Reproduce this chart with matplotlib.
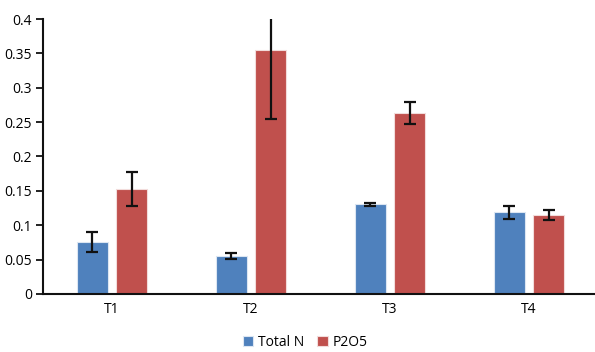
import matplotlib
matplotlib.use("Agg")
import matplotlib.pyplot as plt
import numpy as np

plt.rcParams['font.family'] = ['Open Sans', 'DejaVu Sans']

categories = ["T1", "T2", "T3", "T4"]
total_n = [0.0756, 0.0553, 0.1304, 0.1188]
total_n_err = [0.015, 0.005, 0.0025, 0.0095]
p2o5 = [0.1527, 0.355, 0.263, 0.1145]
p2o5_err = [0.025, 0.10, 0.016, 0.007]
yticks = [0, 0.05, 0.1, 0.15, 0.2, 0.25, 0.3, 0.35, 0.4]
ytick_labels = ["0", "0.05", "0.1", "0.15", "0.2", "0.25", "0.3", "0.35", "0.4"]

blue = "#4F81BD"
red = "#C0504D"

fig = plt.figure(figsize=(5.95, 3.52), dpi=100)
ax = fig.add_axes([0.0723, 0.1648, 0.9277, 0.7812])

x = np.arange(len(categories))
w = 0.223
off = 0.142
err_kw = dict(ecolor="#111111", elinewidth=1.6, capsize=4.5, capthick=1.6)
ax.bar(x - off, total_n, w, color=blue, edgecolor="#DCE6F2", linewidth=0.8,
       yerr=total_n_err, error_kw=err_kw, label="Total N")
ax.bar(x + off, p2o5, w, color=red, edgecolor="#F2DCDB", linewidth=0.8,
       yerr=p2o5_err, error_kw=err_kw, label="P2O5")

ax.set_xlim(-0.496, 3.475)
ax.set_ylim(0, 0.4)
ax.set_yticks(yticks)
ax.set_yticklabels(ytick_labels)
ax.set_xticks(x)
ax.set_xticklabels(categories)
ax.tick_params(axis="y", length=5, width=1.3, labelsize=10, color="#111111", pad=3)
ax.tick_params(axis="x", length=0, labelsize=10, pad=6)
for s in ("top", "right"):
    ax.spines[s].set_visible(False)
for s in ("left", "bottom"):
    ax.spines[s].set_linewidth(1.5)
    ax.spines[s].set_color("#111111")

fig.legend(loc="lower center", bbox_to_anchor=(0.513, -0.03), ncol=2, frameon=False,
           fontsize=10, handlelength=0.75, handleheight=0.75, handletextpad=0.35,
           columnspacing=0.9)

fig.savefig("out.png", dpi=100)
